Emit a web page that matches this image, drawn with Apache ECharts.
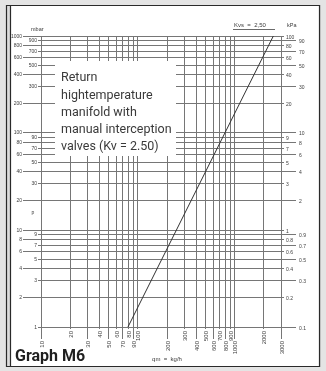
<!DOCTYPE html>
<html>
<head>
<meta charset="utf-8">
<script src="https://cdn.jsdelivr.net/npm/echarts@6/dist/echarts.min.js"></script>
<style>
  html, body { margin: 0; padding: 0; background: #e4e4e4; }
  #chart { width: 326px; height: 371px; }
</style>
</head>
<body>
<div id="chart"></div>
<script>
// Flow rate ticks along the bottom (kg/h)
const flowTicks = [10, 20, 30, 40, 50, 60, 70, 80, 90, 100, 200, 300, 400, 500, 600, 700, 800, 900, 1000, 2000, 3000];
// Flow labels that sit in the upper row of the staggered scale
const flowUpper = [20, 40, 60, 80, 100, 300, 500, 700, 900, 2000];

// Pressure drop ticks (mbar) and the matching kPa labels on the right
const pressureTicks = [1000, 900, 800, 700, 600, 500, 400, 300, 200, 100, 90, 80, 70, 60, 50, 40, 30, 20, 10, 9, 8, 7, 6, 5, 4, 3, 2, 1];
const kpaLabels = ['100', '90', '80', '70', '60', '50', '40', '30', '20', '10', '9', '8', '7', '6', '5', '4', '3', '2', '1', '0.9', '0.8', '0.7', '0.6', '0.5', '0.4', '0.3', '0.2', '0.1'];
// Ticks whose labels sit close to the plot (the rest are pushed outward)
const leftInner = [900, 700, 500, 300, 90, 70, 50, 30, 9, 7, 5, 3, 1];
const rightInner = [1000, 800, 600, 400, 200, 90, 70, 50, 30, 10, 8, 6, 4, 2];

// Pressure loss curve, Kvs = 2.50: [flow kg/h, pressure drop mbar]
const lossCurve = [[79, 1], [2500, 1000]];

const GRID = '#767676';
const LABEL = '#3c3c3c';
const SMALL_FONT = '5px "Liberation Sans", Arial, sans-serif';
const FLOW_FONT = '6px "Liberation Sans", Arial, sans-serif';

const chart = echarts.init(document.getElementById('chart'), null, { renderer: 'canvas' });

function crisp(v) { return Math.round(v - 0.5) + 0.5; }

function renderFlowTick(params, api) {
  const v = api.value(0);
  const top = api.coord([v, 1000]);
  const bot = api.coord([v, 1]);
  const x = crisp(top[0]);
  const upper = flowUpper.indexOf(v) >= 0;
  return {
    type: 'group',
    children: [
      { type: 'line', shape: { x1: x, y1: top[1], x2: x, y2: bot[1] + (upper ? 2 : 12) },
        style: { stroke: GRID, lineWidth: 1 } },
      { type: 'text', x: x + 0.5, y: bot[1] + (upper ? 4 : 14), rotation: Math.PI / 2,
        style: { text: String(v), align: 'right', verticalAlign: 'middle', font: FLOW_FONT, fill: LABEL } }
    ]
  };
}

function renderPressureTick(params, api) {
  const p = api.value(1);
  const i = params.dataIndex;
  const l = api.coord([10, p]);
  const r = api.coord([3000, p]);
  const y = crisp(l[1]);
  const lIn = leftInner.indexOf(p) >= 0;
  const rIn = rightInner.indexOf(p) >= 0;
  return {
    type: 'group',
    children: [
      { type: 'line', shape: { x1: l[0] - (lIn ? 3 : 18), y1: y, x2: r[0] + (rIn ? 3 : 15), y2: y },
        style: { stroke: GRID, lineWidth: 1 } },
      { type: 'text', x: l[0] - (lIn ? 4 : 19), y: y,
        style: { text: String(p), align: 'right', verticalAlign: 'middle', font: SMALL_FONT, fill: LABEL } },
      { type: 'text', x: r[0] + (rIn ? 5 : 18), y: y + 1,
        style: { text: kpaLabels[i], align: 'left', verticalAlign: 'middle', font: SMALL_FONT, fill: LABEL } }
    ]
  };
}

const option = {
  animation: false,
  backgroundColor: '#e4e4e4',
  grid: { left: 41, right: 45, top: 36, bottom: 44 },
  xAxis: { type: 'log', logBase: 10, min: 10, max: 3000, show: false },
  yAxis: { type: 'log', logBase: 10, min: 1, max: 1000, show: false },
  graphic: [
    // outer frame with the narrow strip on the left
    { type: 'rect', z: -10, shape: { x: 6.5, y: 5.5, width: 313, height: 361 },
      style: { fill: '#dcdcdc', stroke: '#2a2a2a', lineWidth: 1.2 } },
    { type: 'rect', z: -9, shape: { x: 10.5, y: 5.5, width: 309, height: 361 },
      style: { fill: '#ffffff', stroke: '#2a2a2a', lineWidth: 1.2 } },
    // axis captions
    { type: 'text', z: 5, x: 31, y: 29,
      style: { text: 'mbar', font: '5.5px "Liberation Sans", Arial, sans-serif', fill: LABEL, verticalAlign: 'middle' } },
    { type: 'text', z: 5, x: 287, y: 25,
      style: { text: 'kPa', font: '5.5px "Liberation Sans", Arial, sans-serif', fill: LABEL, verticalAlign: 'middle' } },
    { type: 'text', z: 5, x: 234, y: 25,
      style: { text: 'Kvs  =  2,50', font: '6px "Liberation Sans", Arial, sans-serif', fill: LABEL, verticalAlign: 'middle' } },
    { type: 'line', z: 5, shape: { x1: 233, y1: 29.5, x2: 275, y2: 29.5 },
      style: { stroke: '#444', lineWidth: 0.8 } },
    { type: 'text', z: 5, x: 33, y: 213,
      style: { text: 'p', font: '5px "Liberation Sans", Arial, sans-serif', fill: LABEL, align: 'center', verticalAlign: 'middle' } },
    { type: 'text', z: 5, x: 167, y: 359,
      style: { text: 'qm  =  kg/h', font: '6px "Liberation Sans", Arial, sans-serif', fill: LABEL, align: 'center', verticalAlign: 'middle' } },
    { type: 'text', z: 5, x: 15, y: 357,
      style: { text: 'Graph M6', font: 'bold 16px Roboto, "Noto Sans", sans-serif', fill: '#1f1f1f', verticalAlign: 'middle' } },
    // description box laid over the grid
    { type: 'rect', z: 100, shape: { x: 55, y: 61, width: 121, height: 95 },
      style: { fill: '#ffffff' } },
    { type: 'text', z: 101, x: 61, y: 69.5,
      style: {
        text: 'Return\nhightemperature\nmanifold with\nmanual interception\nvalves (Kv = 2.50)',
        font: '12.5px Roboto, "Noto Sans", sans-serif', lineHeight: 17.3,
        fill: '#3a3a3a', verticalAlign: 'top'
      } }
  ],
  series: [
    {
      type: 'custom',
      z: 2,
      silent: true,
      clip: false,
      renderItem: renderFlowTick,
      data: flowTicks.map(v => [v, 1])
    },
    {
      type: 'custom',
      z: 2,
      silent: true,
      clip: false,
      renderItem: renderPressureTick,
      data: pressureTicks.map(p => [10, p])
    },
    {
      type: 'line',
      z: 3,
      data: lossCurve,
      showSymbol: false,
      silent: true,
      lineStyle: { color: '#333', width: 1 }
    }
  ]
};

chart.setOption(option);
</script>
</body>
</html>
